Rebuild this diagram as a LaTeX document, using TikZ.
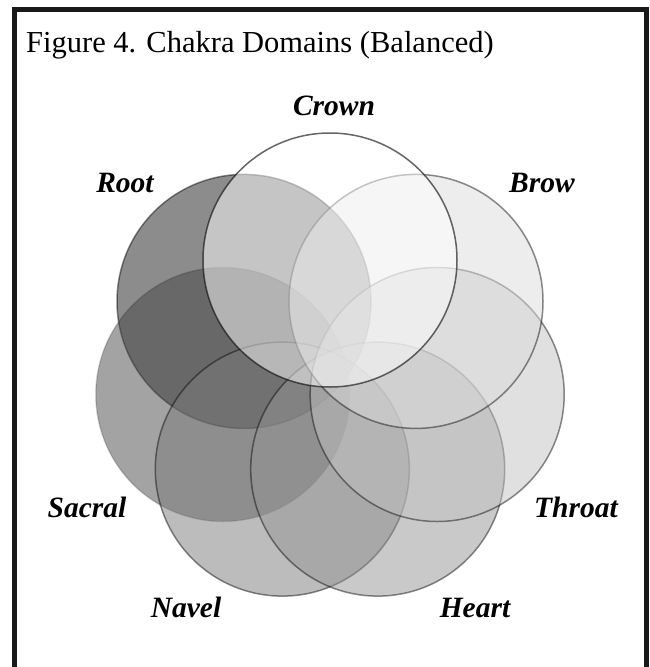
\documentclass[tikz,border=0pt]{standalone}
\usepackage{fontspec}
\setmainfont{Liberation Serif}
\usepackage{xcolor}
\usepackage{tikz}

\begin{document}
\begin{tikzpicture}[x=1pt,y=-1pt,
  chakra/.style={line width=1.5pt,draw=black,fill opacity=0.5,draw opacity=0.45},
  chakralabel/.style={anchor=base,inner sep=0pt,font=\fontsize{29.5}{31}\selectfont\bfseries\itshape}]
\useasboundingbox (0,0) rectangle (649,667);
\draw[line width=5pt,black!90] (14.2,667) -- (14.2,9.5) -- (646.4,9.5) -- (646.4,667);
\node[anchor=base west,inner sep=0pt,font=\fontsize{30.5}{33}\selectfont] (title) at (26,52) {Figure 4. Chakra Domains (Balanced)};
% seven circles on a ring, Root first and Crown last
\fill[chakra,fill=black!90] (244.0,301.4) circle[radius=127pt];
\filldraw[chakra,fill=black!72,draw opacity=0.15] (222.8,394.5) circle[radius=127pt];
\filldraw[chakra,fill=black!52] (282.3,469.1) circle[radius=127pt];
\filldraw[chakra,fill=black!42] (377.7,469.1) circle[radius=127pt];
\filldraw[chakra,fill=black!24] (437.2,394.5) circle[radius=127pt];
\filldraw[chakra,fill=black!14] (416.0,301.4) circle[radius=127pt];
\filldraw[chakra,fill=white,draw opacity=0.6] (330,260) circle[radius=127pt];
% labels
\node[chakralabel] (crown) at (334,115) {Crown};
\node[chakralabel] (brow) at (542,192) {Brow};
\node[chakralabel] (throat) at (576,517) {Throat};
\node[chakralabel] (heart) at (475,617) {Heart};
\node[chakralabel] (navel) at (186,617) {Navel};
\node[chakralabel] (sacral) at (87,517) {Sacral};
\node[chakralabel] (root) at (125,192) {Root};
\end{tikzpicture}
\end{document}
